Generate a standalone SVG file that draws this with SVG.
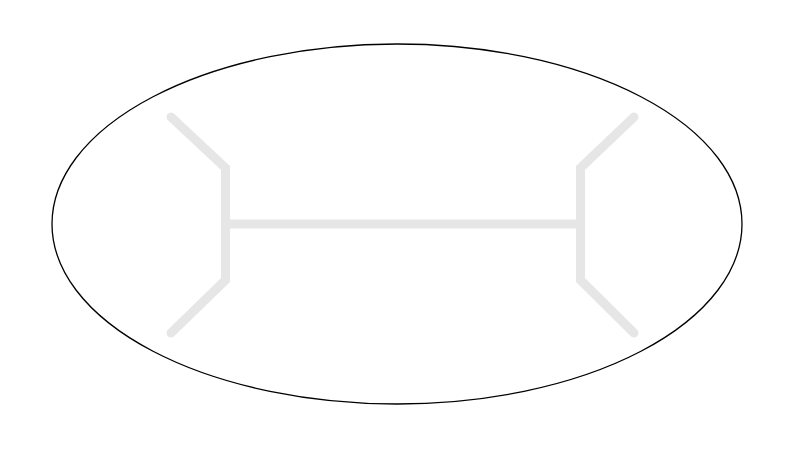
<svg xmlns="http://www.w3.org/2000/svg" width="793" height="450" viewBox="0 0 793 450">
<style>
.bone{fill:none;stroke:#e6e6e6;stroke-width:9;stroke-linecap:round;stroke-linejoin:miter}
</style>
<rect width="793" height="450" fill="#fff"/>
<g id="ellipse">
<ellipse cx="397" cy="224" rx="345" ry="180" fill="none" stroke="#000" stroke-width="1.3"/>
</g>
<g id="connectors">
<polyline class="bone" points="171,117 225.5,168 225.5,280 171,333"/>
<polyline class="bone" points="634,117 580.5,168 580.5,280 634,333"/>
<line class="bone" x1="225.5" y1="224" x2="580.5" y2="224"/>
</g>
</svg>
